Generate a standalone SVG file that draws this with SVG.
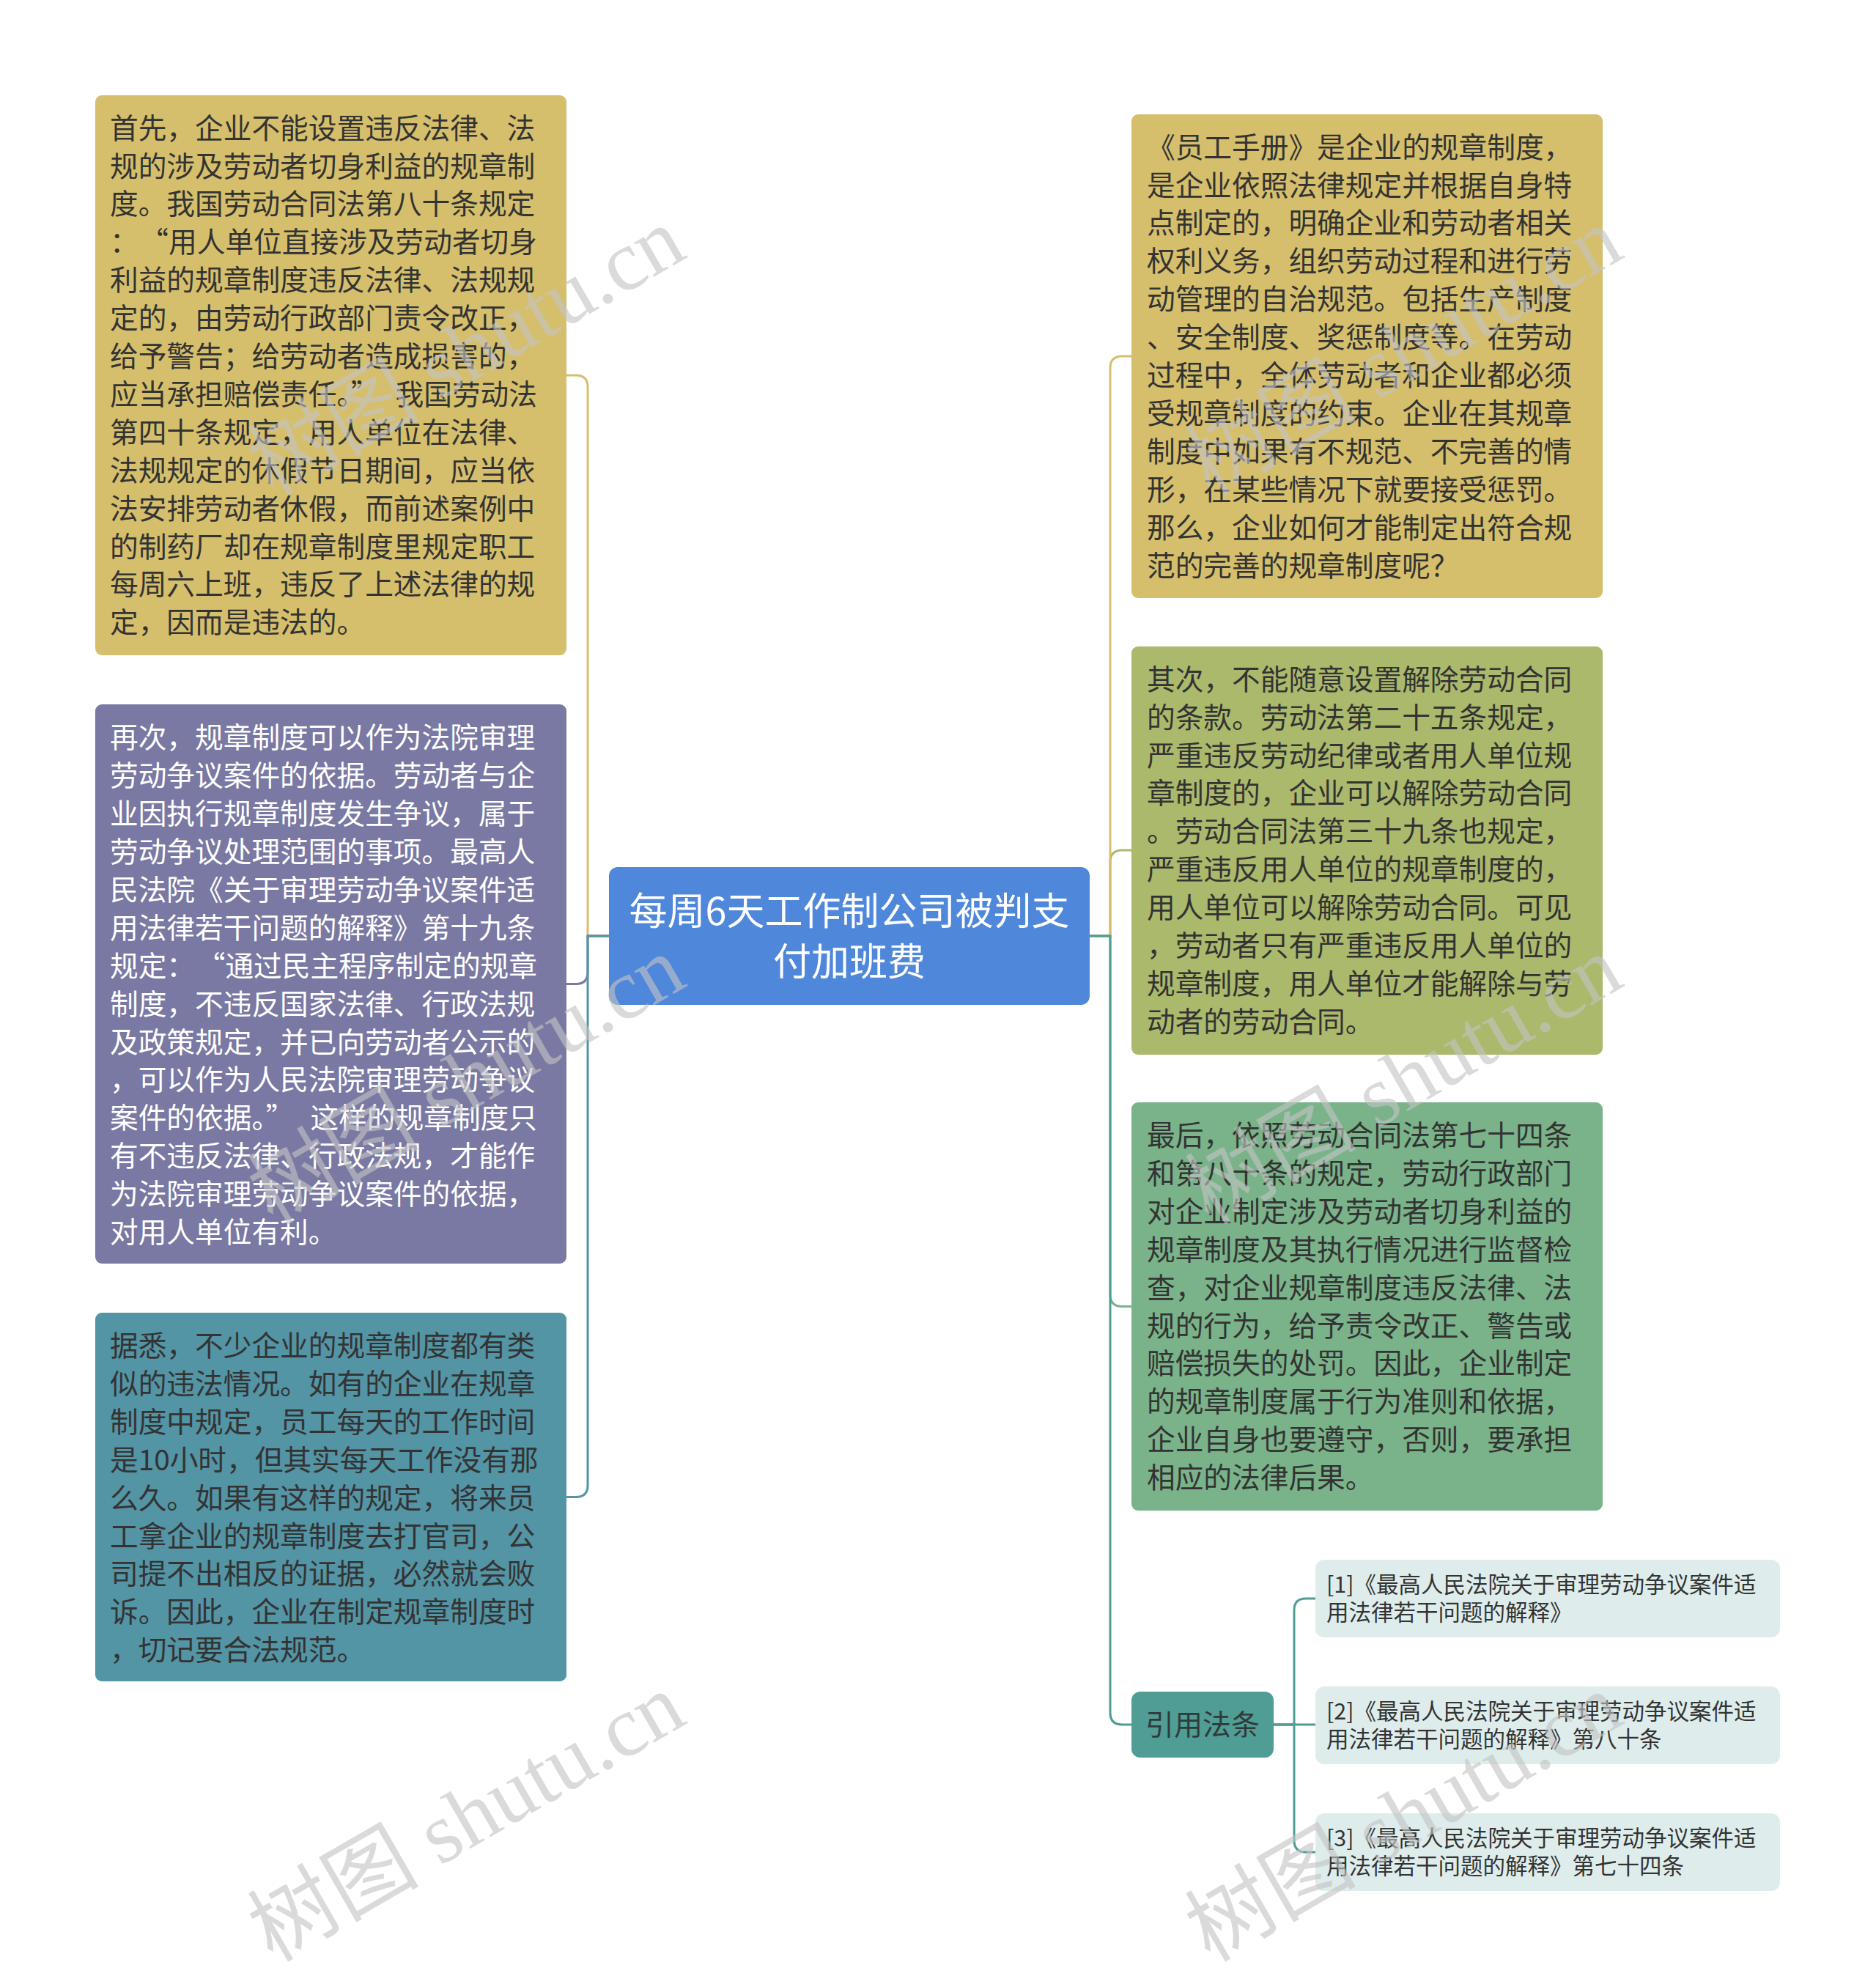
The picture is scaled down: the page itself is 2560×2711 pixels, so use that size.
<svg xmlns="http://www.w3.org/2000/svg" width="2560" height="2711" viewBox="0 0 2560 2711">
<style>
text { font-family: "Noto Sans CJK SC", "Microsoft YaHei", sans-serif; }
.body { font-size: 38.7px; fill: #333333; }
.white { fill: #ffffff; }
.ref { font-size: 30.5px; fill: #333333; }
.root { font-size: 52px; fill: #ffffff; text-anchor: middle; }
.lbl { font-size: 39px; fill: #2f3b3a; text-anchor: middle; }
.conn path { fill: none; stroke-width: 3; }
.wm { font-family: "Liberation Serif", "Noto Sans CJK SC", serif; font-size: 117px; fill: #c4c4c4; fill-opacity: 0.62; }
</style>
<rect width="2560" height="2711" fill="#ffffff"/>
<g id="connectors" class="conn">
<path d="M831,1277 H802 V528 Q802,512 786,512 H773" stroke="#d5bf6c"/>
<path d="M831,1277 H802 V1326.5 Q802,1342.5 786,1342.5 H773" stroke="#7a79a3"/>
<path d="M831,1277 H802 V2026.5 Q802,2042.5 786,2042.5 H773" stroke="#5394a5"/>
<path d="M1487,1277 H1515 V1176 Q1515,1160 1531,1160 H1544" stroke="#abb96c"/>
<path d="M1487,1277 H1515 V502 Q1515,486 1531,486 H1544" stroke="#d5bf6c"/>
<path d="M1487,1277 H1515 V1766.5 Q1515,1782.5 1531,1782.5 H1544" stroke="#7ab38a"/>
<path d="M1487,1277 H1515 V2337 Q1515,2353 1531,2353 H1544" stroke="#4f9d94"/>
<path d="M1738,2353 H1766 V2197 Q1766,2181 1782,2181 H1795" stroke="#4f9d94"/>
<path d="M1738,2353 H1795" stroke="#4f9d94"/>
<path d="M1738,2353 H1766 V2511 Q1766,2527 1782,2527 H1795" stroke="#4f9d94"/>
</g>
<g id="root">
<rect x="831" y="1183" width="656" height="188" rx="12" fill="#4f87da"/>
<text class="root"><tspan x="1159" y="1262">每周6天工作制公司被判支</tspan><tspan x="1159" y="1331">付加班费</tspan></text>
</g>
<g id="left1">
<rect x="130" y="130" width="643" height="764" rx="9" fill="#d5bf6c"/>
<text class="body">
<tspan x="150" y="188.6">首先，企业不能设置违反法律、法</tspan>
<tspan x="150" dy="51.9">规的涉及劳动者切身利益的规章制</tspan>
<tspan x="150" dy="51.9">度。我国劳动合同法第八十条规定</tspan>
<tspan x="150" dy="51.9">：<tspan dx="22">“</tspan>用人单位直接涉及劳动者切身</tspan>
<tspan x="150" dy="51.9">利益的规章制度违反法律、法规规</tspan>
<tspan x="150" dy="51.9">定的，由劳动行政部门责令改正，</tspan>
<tspan x="150" dy="51.9">给予警告；给劳动者造成损害的，</tspan>
<tspan x="150" dy="51.9">应当承担赔偿责任。”<tspan dx="22">我国劳动法</tspan></tspan>
<tspan x="150" dy="51.9">第四十条规定，用人单位在法律、</tspan>
<tspan x="150" dy="51.9">法规规定的休假节日期间，应当依</tspan>
<tspan x="150" dy="51.9">法安排劳动者休假，而前述案例中</tspan>
<tspan x="150" dy="51.9">的制药厂却在规章制度里规定职工</tspan>
<tspan x="150" dy="51.9">每周六上班，违反了上述法律的规</tspan>
<tspan x="150" dy="51.9">定，因而是违法的。</tspan>
</text>
</g>
<g id="left2">
<rect x="130" y="961" width="643" height="763" rx="9" fill="#7a79a3"/>
<text class="body white">
<tspan x="150" y="1020.3">再次，规章制度可以作为法院审理</tspan>
<tspan x="150" dy="51.9">劳动争议案件的依据。劳动者与企</tspan>
<tspan x="150" dy="51.9">业因执行规章制度发生争议，属于</tspan>
<tspan x="150" dy="51.9">劳动争议处理范围的事项。最高人</tspan>
<tspan x="150" dy="51.9">民法院《关于审理劳动争议案件适</tspan>
<tspan x="150" dy="51.9">用法律若干问题的解释》第十九条</tspan>
<tspan x="150" dy="51.9">规定：<tspan dx="22">“</tspan>通过民主程序制定的规章</tspan>
<tspan x="150" dy="51.9">制度，不违反国家法律、行政法规</tspan>
<tspan x="150" dy="51.9">及政策规定，并已向劳动者公示的</tspan>
<tspan x="150" dy="51.9">，可以作为人民法院审理劳动争议</tspan>
<tspan x="150" dy="51.9">案件的依据。”<tspan dx="22">这样的规章制度只</tspan></tspan>
<tspan x="150" dy="51.9">有不违反法律、行政法规，才能作</tspan>
<tspan x="150" dy="51.9">为法院审理劳动争议案件的依据，</tspan>
<tspan x="150" dy="51.9">对用人单位有利。</tspan>
</text>
</g>
<g id="left3">
<rect x="130" y="1791" width="643" height="503" rx="9" fill="#5394a5"/>
<text class="body">
<tspan x="150" y="1850">据悉，不少企业的规章制度都有类</tspan>
<tspan x="150" dy="51.9">似的违法情况。如有的企业在规章</tspan>
<tspan x="150" dy="51.9">制度中规定，员工每天的工作时间</tspan>
<tspan x="150" dy="51.9">是10小时，但其实每天工作没有那</tspan>
<tspan x="150" dy="51.9">么久。如果有这样的规定，将来员</tspan>
<tspan x="150" dy="51.9">工拿企业的规章制度去打官司，公</tspan>
<tspan x="150" dy="51.9">司提不出相反的证据，必然就会败</tspan>
<tspan x="150" dy="51.9">诉。因此，企业在制定规章制度时</tspan>
<tspan x="150" dy="51.9">，切记要合法规范。</tspan>
</text>
</g>
<g id="right1">
<rect x="1544" y="156" width="643" height="660" rx="9" fill="#d5bf6c"/>
<text class="body">
<tspan x="1565" y="214.6">《员工手册》是企业的规章制度，</tspan>
<tspan x="1565" dy="51.9">是企业依照法律规定并根据自身特</tspan>
<tspan x="1565" dy="51.9">点制定的，明确企业和劳动者相关</tspan>
<tspan x="1565" dy="51.9">权利义务，组织劳动过程和进行劳</tspan>
<tspan x="1565" dy="51.9">动管理的自治规范。包括生产制度</tspan>
<tspan x="1565" dy="51.9">、安全制度、奖惩制度等。在劳动</tspan>
<tspan x="1565" dy="51.9">过程中，全体劳动者和企业都必须</tspan>
<tspan x="1565" dy="51.9">受规章制度的约束。企业在其规章</tspan>
<tspan x="1565" dy="51.9">制度中如果有不规范、不完善的情</tspan>
<tspan x="1565" dy="51.9">形，在某些情况下就要接受惩罚。</tspan>
<tspan x="1565" dy="51.9">那么，企业如何才能制定出符合规</tspan>
<tspan x="1565" dy="51.9">范的完善的规章制度呢？</tspan>
</text>
</g>
<g id="right2">
<rect x="1544" y="882" width="643" height="557" rx="9" fill="#abb96c"/>
<text class="body">
<tspan x="1565" y="940.7">其次，不能随意设置解除劳动合同</tspan>
<tspan x="1565" dy="51.9">的条款。劳动法第二十五条规定，</tspan>
<tspan x="1565" dy="51.9">严重违反劳动纪律或者用人单位规</tspan>
<tspan x="1565" dy="51.9">章制度的，企业可以解除劳动合同</tspan>
<tspan x="1565" dy="51.9">。劳动合同法第三十九条也规定，</tspan>
<tspan x="1565" dy="51.9">严重违反用人单位的规章制度的，</tspan>
<tspan x="1565" dy="51.9">用人单位可以解除劳动合同。可见</tspan>
<tspan x="1565" dy="51.9">，劳动者只有严重违反用人单位的</tspan>
<tspan x="1565" dy="51.9">规章制度，用人单位才能解除与劳</tspan>
<tspan x="1565" dy="51.9">动者的劳动合同。</tspan>
</text>
</g>
<g id="right3">
<rect x="1544" y="1504" width="643" height="557" rx="9" fill="#7ab38a"/>
<text class="body">
<tspan x="1565" y="1563">最后，依照劳动合同法第七十四条</tspan>
<tspan x="1565" dy="51.9">和第八十条的规定，劳动行政部门</tspan>
<tspan x="1565" dy="51.9">对企业制定涉及劳动者切身利益的</tspan>
<tspan x="1565" dy="51.9">规章制度及其执行情况进行监督检</tspan>
<tspan x="1565" dy="51.9">查，对企业规章制度违反法律、法</tspan>
<tspan x="1565" dy="51.9">规的行为，给予责令改正、警告或</tspan>
<tspan x="1565" dy="51.9">赔偿损失的处罚。因此，企业制定</tspan>
<tspan x="1565" dy="51.9">的规章制度属于行为准则和依据，</tspan>
<tspan x="1565" dy="51.9">企业自身也要遵守，否则，要承担</tspan>
<tspan x="1565" dy="51.9">相应的法律后果。</tspan>
</text>
</g>
<g id="right4">
<rect x="1544" y="2308" width="194" height="90" rx="12" fill="#4f9d94"/>
<text class="lbl" x="1641" y="2367">引用法条</text>
</g>
<g id="ref1">
<rect x="1795" y="2128" width="634" height="106" rx="12" fill="#deedeb"/>
<text class="ref"><tspan x="1810" y="2173">[1]《最高人民法院关于审理劳动争议案件适</tspan><tspan x="1810" y="2211">用法律若干问题的解释》</tspan></text>
</g>
<g id="ref2">
<rect x="1795" y="2301" width="634" height="106" rx="12" fill="#deedeb"/>
<text class="ref"><tspan x="1810" y="2346">[2]《最高人民法院关于审理劳动争议案件适</tspan><tspan x="1810" y="2384">用法律若干问题的解释》第八十条</tspan></text>
</g>
<g id="ref3">
<rect x="1795" y="2474" width="634" height="106" rx="12" fill="#deedeb"/>
<text class="ref"><tspan x="1810" y="2519">[3]《最高人民法院关于审理劳动争议案件适</tspan><tspan x="1810" y="2557">用法律若干问题的解释》第七十四条</tspan></text>
</g>
<g id="watermark">
<text class="wm" transform="translate(372,678) rotate(-30)">树图 shutu.cn</text>
<text class="wm" transform="translate(1651,678) rotate(-30)">树图 shutu.cn</text>
<text class="wm" transform="translate(372,1672) rotate(-30)">树图 shutu.cn</text>
<text class="wm" transform="translate(1651,1672) rotate(-30)">树图 shutu.cn</text>
<text class="wm" transform="translate(372,2678) rotate(-30)">树图 shutu.cn</text>
<text class="wm" transform="translate(1651,2678) rotate(-30)">树图 shutu.cn</text>
</g>
</svg>
